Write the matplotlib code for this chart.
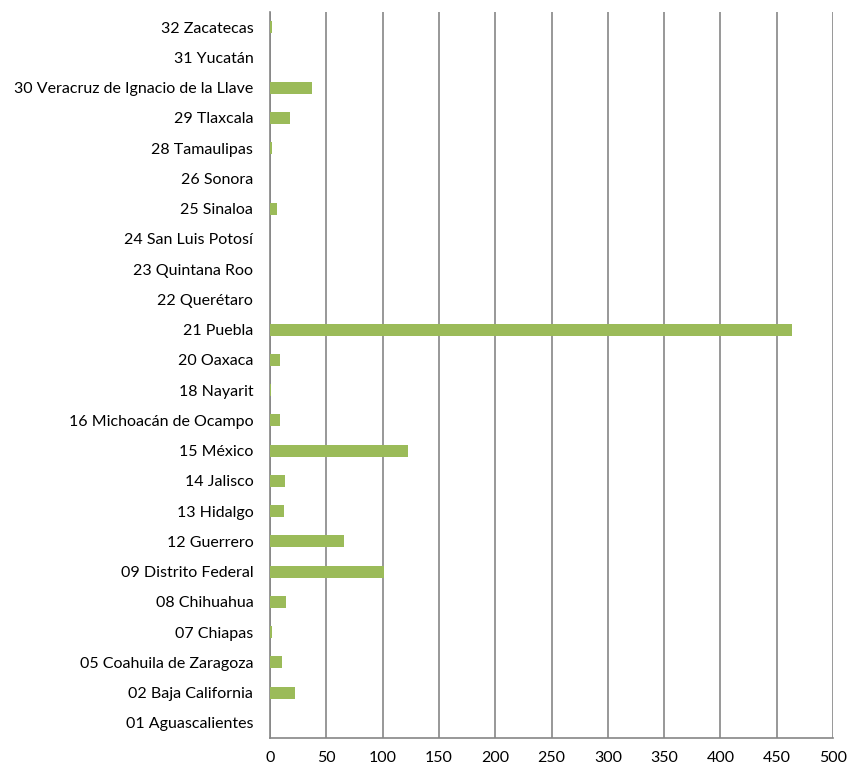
import matplotlib
matplotlib.use("Agg")
import matplotlib.pyplot as plt
import numpy as np

plt.rcParams['font.family'] = ['Lato', 'DejaVu Sans']

estados = ["01 Aguascalientes", "02 Baja California", "05 Coahuila de Zaragoza",
           "07 Chiapas", "08 Chihuahua", "09 Distrito Federal", "12 Guerrero",
           "13 Hidalgo", "14 Jalisco", "15 México", "16 Michoacán de Ocampo",
           "18 Nayarit", "20 Oaxaca", "21 Puebla", "22 Querétaro",
           "23 Quintana Roo", "24 San Luis Potosí", "25 Sinaloa", "26 Sonora",
           "28 Tamaulipas", "29 Tlaxcala", "30 Veracruz de Ignacio de la Llave",
           "31 Yucatán", "32 Zacatecas"]
valores = [0, 22, 11, 2, 14, 101, 66, 12, 13, 123, 9, 1, 9, 464, 0, 0, 0, 6, 0,
           2, 18, 37, 0, 2]
xticks = [0, 50, 100, 150, 200, 250, 300, 350, 400, 450, 500]

fig = plt.figure(figsize=(8.49, 7.67), dpi=100)
ax = fig.add_axes([270/849, 1 - 738/767, 563/849, 726/767])

y = np.arange(len(estados))
ax.barh(y, valores, height=0.4, color='#9BBB59', zorder=3)

ax.set_xlim(0, 500)
ax.set_ylim(-0.5, len(estados) - 0.5)
ax.set_xticks(xticks)
ax.set_yticks(y)
ax.set_yticklabels(estados)
ax.xaxis.grid(True, color='#868686', linewidth=1.2, zorder=0)
ax.tick_params(axis='both', length=0, labelsize=11.5, colors='black')
ax.tick_params(axis='x', pad=9)
ax.tick_params(axis='y', pad=12)
for s in ['top', 'right']:
    ax.spines[s].set_visible(False)
for s in ['left', 'bottom']:
    ax.spines[s].set_color('#868686')
    ax.spines[s].set_linewidth(1.2)

plt.savefig("out.png", dpi=100)
